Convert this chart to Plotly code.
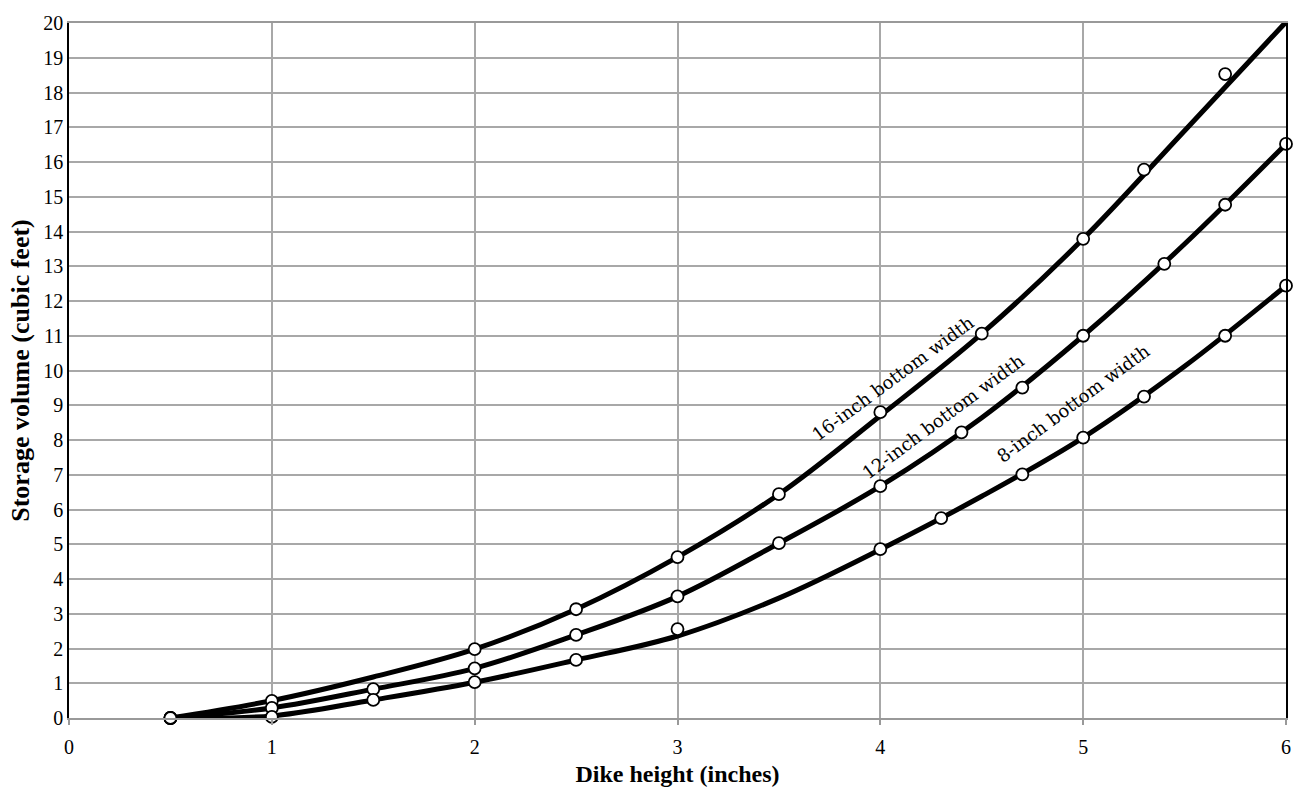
import plotly.graph_objects as go

# Smooth curve samples
curve_x = [0.5, 1, 1.5, 2, 2.5, 3, 3.5, 4, 4.5, 5, 5.5, 6]
curve_16 = [0, 0.5, 1.18, 1.98, 3.13, 4.63, 6.44, 8.7, 11.06, 13.79, 16.9, 20.03]
curve_12 = [0, 0.29, 0.83, 1.43, 2.39, 3.5, 5.03, 6.67, 8.64, 11.0, 13.64, 16.52]
curve_8 = [0, 0.06, 0.52, 1.03, 1.67, 2.36, 3.45, 4.85, 6.38, 8.07, 10.12, 12.44]

# Measured points (markers)
pts16_x = [0.5, 1, 2, 2.5, 3, 3.5, 4, 4.5, 5, 5.3, 5.7, 6]
pts16_y = [0, 0.49, 1.98, 3.13, 4.63, 6.44, 8.8, 11.06, 13.79, 15.78, 18.53, 20.03]
pts12_x = [0.5, 1, 1.5, 2, 2.5, 3, 3.5, 4, 4.4, 4.7, 5, 5.4, 5.7, 6]
pts12_y = [0, 0.29, 0.83, 1.43, 2.39, 3.5, 5.03, 6.67, 8.22, 9.51, 11.0, 13.07, 14.77, 16.52]
pts8_x = [0.5, 1, 1.5, 2, 2.5, 3, 4, 4.3, 4.7, 5, 5.3, 5.7, 6]
pts8_y = [0, 0.03, 0.52, 1.03, 1.67, 2.56, 4.86, 5.75, 7.01, 8.07, 9.25, 11.0, 12.44]

labels = ["16-inch bottom width", "12-inch bottom width", "8-inch bottom width"]
label_x = [4.06, 4.31, 4.95]
label_y = [9.77, 8.68, 9.05]

x_ticks = [0, 1, 2, 3, 4, 5, 6]
y_ticks = list(range(0, 21))

fig = go.Figure()
for cy in [curve_16, curve_12, curve_8]:
    fig.add_trace(go.Scatter(x=curve_x, y=cy, mode="lines",
                             line=dict(color="black", width=5, shape="spline", smoothing=1.0),
                             hoverinfo="skip", showlegend=False, cliponaxis=False))
for px, py in [(pts16_x, pts16_y), (pts12_x, pts12_y), (pts8_x, pts8_y)]:
    fig.add_trace(go.Scatter(x=px, y=py, mode="markers",
                             marker=dict(symbol="circle", size=12, color="white",
                                         line=dict(color="black", width=1.8)),
                             showlegend=False, cliponaxis=False))

for t, lx, ly in zip(labels, label_x, label_y):
    fig.add_annotation(x=lx, y=ly, text=t, showarrow=False, textangle=-36.5,
                       font=dict(family="DejaVu Serif", size=18, color="black"))

fig.update_layout(
    width=1300, height=788,
    margin=dict(l=69, r=14, t=23, b=70),
    paper_bgcolor="white", plot_bgcolor="white",
    font=dict(family="Liberation Serif", size=20, color="black"),
    xaxis=dict(range=[0, 6], tickvals=x_ticks, ticktext=[str(v) for v in x_ticks],
               automargin=False,
               showgrid=True, gridcolor="#a8a8a8", gridwidth=1.5,
               showline=True, linecolor="#999999", linewidth=2, mirror=True,
               ticks="outside", ticklen=5, tickcolor="#999999", tickwidth=1.5,
               ticklabelstandoff=5, zeroline=False,
               title=dict(text="<b>Dike height (inches)</b>", standoff=8,
                          font=dict(family="Liberation Serif", size=24))),
    yaxis=dict(range=[0, 20], tickvals=y_ticks, ticktext=[str(v) for v in y_ticks],
               automargin=False,
               showgrid=True, gridcolor="#a8a8a8", gridwidth=1.5,
               showline=True, linecolor="black", linewidth=1.5, mirror=True,
               ticks="", ticklabelstandoff=0, zeroline=False,
               title=dict(text="<b>Storage volume (cubic feet)</b>", standoff=6,
                          font=dict(family="Liberation Serif", size=26))),
)

fig.write_html("out.html", config={"displayModeBar": False},
               post_script="document.body.style.margin='0';")
